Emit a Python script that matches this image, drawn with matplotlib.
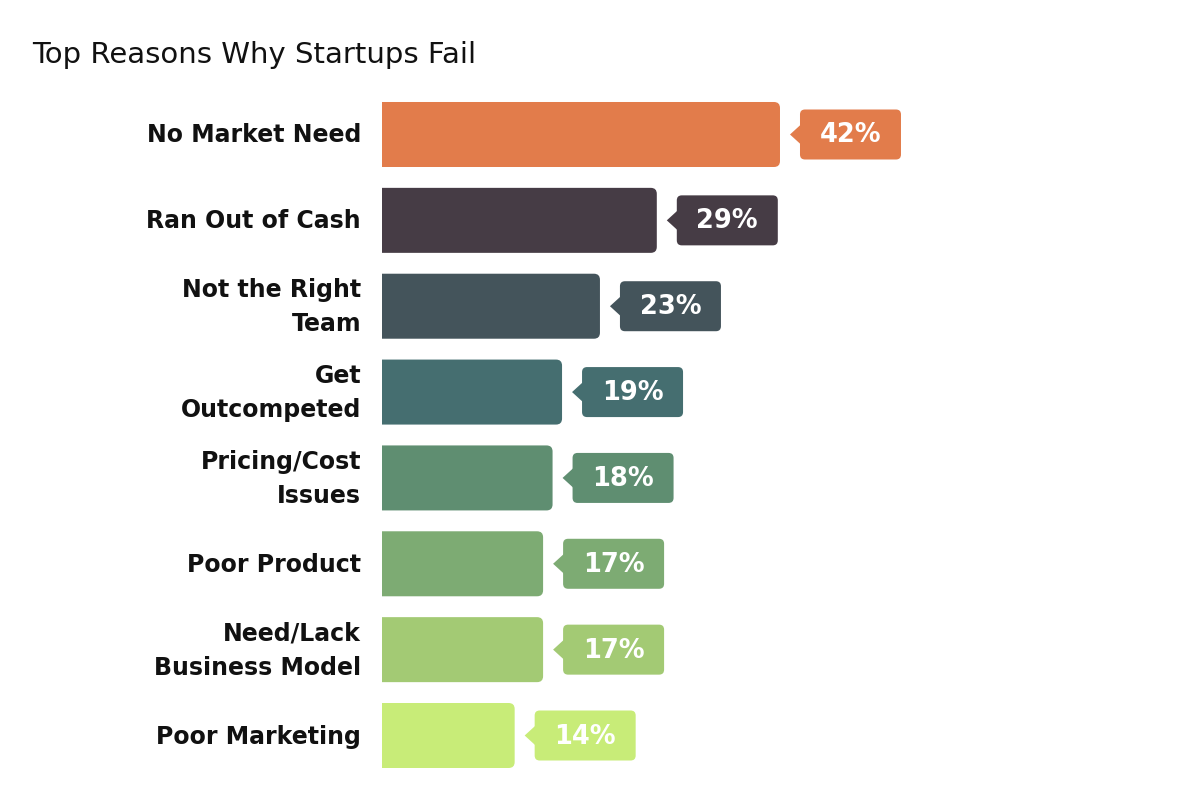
import matplotlib.pyplot as plt
from matplotlib.patches import FancyBboxPatch, Polygon

reasons = ["No Market Need", "Ran Out of Cash", "Not the Right\nTeam", "Get\nOutcompeted",
           "Pricing/Cost\nIssues", "Poor Product", "Need/Lack\nBusiness Model", "Poor Marketing"]
shares = [42, 29, 23, 19, 18, 17, 17, 14]
bar_colors = ["#E27C4B", "#463C45", "#44545B", "#456E70", "#5F8E71", "#7DAB73", "#A3CA74", "#C8EC78"]

W, H = 1200, 804
fig = plt.figure(figsize=(W / 100, H / 100), dpi=100)

# axes: x=0 sits at pixel 382, 9.476 px per percent
px_x = 9.476
px_y = 85.86
x0 = 382
ax = fig.add_axes([x0 / W, 0, 1 - x0 / W, 1])
ax.set_xlim(0, (W - x0) / px_x)
ax.set_ylim(7 + (H - 736.5) / px_y, -135.5 / px_y)
ax.axis("off")

bar_h = 65 / px_y
r = 6 / px_x
asp = (6 / px_y) / r

bars = ax.barh(range(len(shares)), shares, height=bar_h, color=bar_colors)
for b, c in zip(bars, bar_colors):
    b.set_visible(False)
    x, y = b.get_x(), b.get_y()
    w, h = b.get_width(), b.get_height()
    p = FancyBboxPatch((x - 2, y), w + 2, h, boxstyle=f"round,pad=0,rounding_size={r}",
                       mutation_aspect=asp, fc=c, ec="none")
    ax.add_patch(p)

    # value tag with pointer
    yc = y + h / 2
    gap = 20 / px_x
    tip = 10 / px_x
    bw = 101 / px_x
    bh = 50 / px_y
    bx = w + gap
    tag = FancyBboxPatch((bx, yc - bh / 2), bw, bh, boxstyle=f"round,pad=0,rounding_size={5 / px_x}",
                         mutation_aspect=(5 / px_y) / (5 / px_x), fc=c, ec="none")
    ax.add_patch(tag)
    half = 10 / px_y
    ax.add_patch(Polygon([(w + tip, yc), (bx + 0.1, yc - half), (bx + 0.1, yc + half)], closed=True, fc=c, ec="none"))
    ax.text(bx + bw / 2, yc, f"{w:.0f}%", ha="center", va="center", color="white",
            fontsize=18.5, fontweight="bold", family="DejaVu Sans")

# category labels
for i, name in enumerate(reasons):
    ax.text(-21 / px_x, i, name, ha="right", va="center", fontsize=17, fontweight="bold",
            color="#111111", linespacing=1.55, clip_on=False)

fig.text(32 / W, 1 - 55 / H, "Top Reasons Why Startups Fail", fontsize=21, va="center",
         ha="left", color="#111111")

fig.savefig("out.png", dpi=100, facecolor="white")
